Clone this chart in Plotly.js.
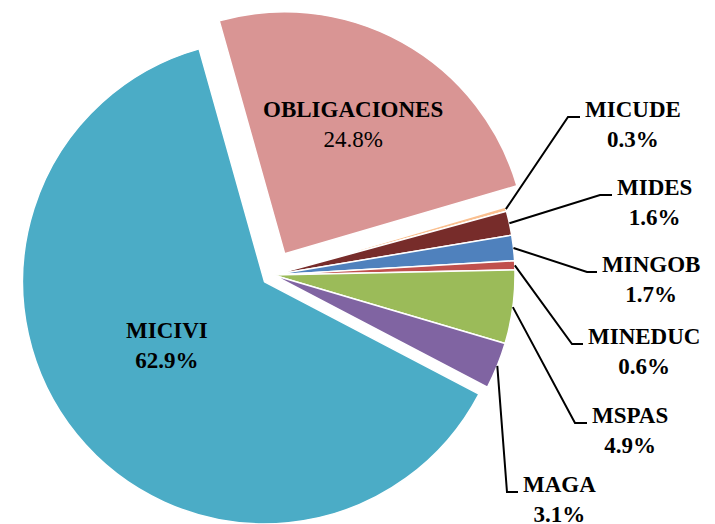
<!DOCTYPE html>
<html>
<head>
<meta charset="utf-8">
<script src="https://cdn.plot.ly/plotly-3.0.1.min.js"></script>
<style>html,body{margin:0;padding:0;overflow:hidden;background:#fff}</style>
</head>
<body>
<div id="grafico"></div>
<script>
const etiquetas = ['OBLIGACIONES', 'MICUDE', 'MIDES', 'MINGOB', 'MINEDUC', 'MSPAS', 'MAGA', 'MICIVI'];
const valores = [24.8, 0.3, 1.6, 1.7, 0.6, 4.9, 3.1, 62.9];
const colores = ['#D99594', '#FAC090', '#772C2A', '#4F81BD', '#C0504D', '#9BBB59', '#8064A2', '#4BACC6'];
const jalon = [0.1, 0, 0, 0, 0, 0, 0, 0.045];

const W = 715, H = 560;
const cx = 273, cy = 275, R = 242, giro = -15.7;
const maxJalon = Math.max(...jalon);
const media = R * (1 + maxJalon);

// posiciones de las etiquetas (px): codo de la linea y fin horizontal
const codos = {
  MICUDE: [568, 117, 580],
  MIDES: [600, 195, 612],
  MINGOB: [587, 272, 597],
  MINEDUC: [572, 344, 583],
  MSPAS: [575, 423, 587],
  MAGA: [507, 492, 518]
};
const dentro = { OBLIGACIONES: [353, 124], MICIVI: [167, 345] };

const px = x => x / W;
const py = y => 1 - y / H;
const fuente = { family: 'Times New Roman', size: 23, color: '#000' };

const total = valores.reduce((a, b) => a + b, 0);
let acum = giro;
const formas = [];
const notas = [];
etiquetas.forEach((et, i) => {
  const ang = valores[i] / total * 360;
  const mid = (acum + ang / 2) * Math.PI / 180;
  acum += ang;
  const pct = valores[i].toFixed(1) + '%';
  if (codos[et]) {
    const [ex, ey, fx] = codos[et];
    const sx = cx + R * Math.sin(mid);
    const sy = cy - R * Math.cos(mid);
    formas.push({
      type: 'path', xref: 'paper', yref: 'paper',
      path: `M${px(sx)},${py(sy)} L${px(ex)},${py(ey)} L${px(fx)},${py(ey)}`,
      line: { color: '#000', width: 2 }
    });
    notas.push({
      xref: 'paper', yref: 'paper', x: px(fx + 3), y: py(ey - 22),
      xanchor: 'left', yanchor: 'top', align: 'center', showarrow: false,
      text: `<b>${et}<br>${pct}</b>`, font: fuente
    });
  } else {
    const [lx, ly] = dentro[et];
    const txt = et === 'MICIVI' ? `<b>${et}<br>${pct}</b>` : `<b>${et}</b><br>${pct}`;
    notas.push({
      xref: 'paper', yref: 'paper', x: px(lx), y: py(ly),
      xanchor: 'center', yanchor: 'middle', align: 'center', showarrow: false,
      text: txt, font: fuente
    });
  }
});

const trace = {
  type: 'pie',
  labels: etiquetas,
  values: valores,
  sort: false,
  direction: 'clockwise',
  rotation: giro,
  pull: jalon,
  textinfo: 'none',
  hoverinfo: 'label+percent',
  marker: { colors: colores, line: { color: '#fff', width: 1.5 } },
  domain: {
    x: [px(cx - media), px(cx + media)],
    y: [py(cy + media), py(cy - media)]
  }
};

const layout = {
  width: W,
  height: H,
  margin: { l: 0, r: 0, t: 0, b: 0 },
  paper_bgcolor: '#fff',
  showlegend: false,
  shapes: formas,
  annotations: notas
};

Plotly.newPlot('grafico', [trace], layout, { displayModeBar: false, staticPlot: true });
</script>
</body>
</html>
